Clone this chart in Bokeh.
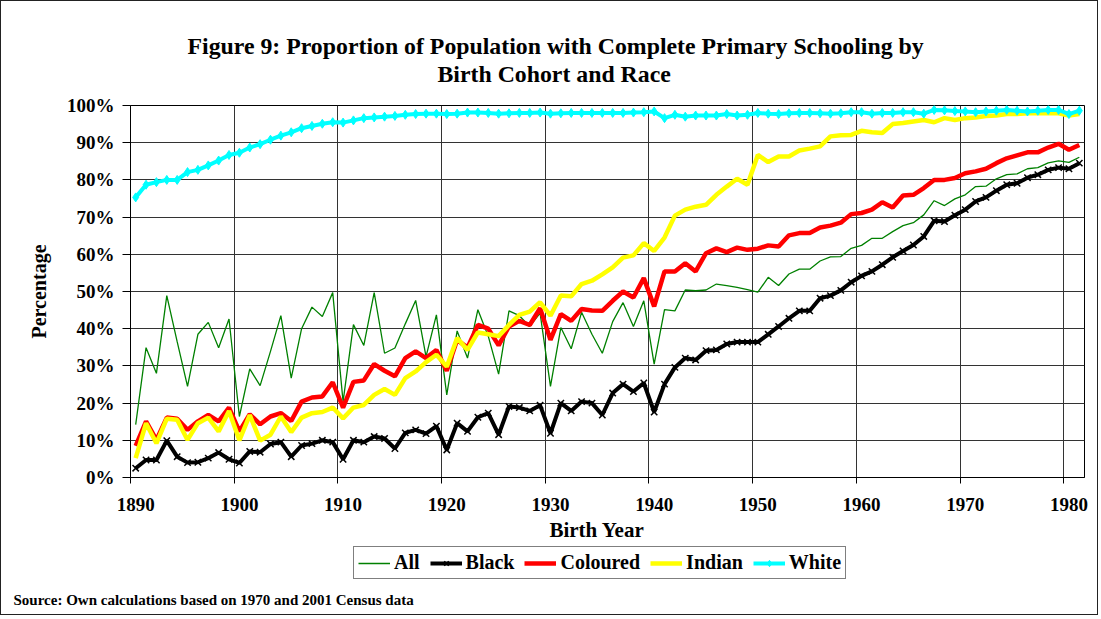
from bokeh.plotting import figure
from bokeh.models import (Range1d, FixedTicker, Legend, LegendItem, Title)
from bokeh.layouts import column
from bokeh.embed import file_html
from bokeh.resources import INLINE

years = list(range(1890, 1982))
tick_years = [1890, 1900, 1910, 1920, 1930, 1940, 1950, 1960, 1970, 1980]

all_vals = [14.2, 34.9, 28.0, 48.9, 36.5, 24.5, 38.5, 41.7, 34.9, 42.6,
            16.4, 29.2, 24.7, 33.9, 43.5, 26.7, 40.0, 45.8, 43.3, 49.7,
            20.4, 41.1, 35.5, 49.7, 33.4, 34.8, 41.3, 47.6, 32.5, 43.7,
            22.2, 39.4, 32.1, 45.1, 38.0, 27.8, 44.8, 43.5, 40.6, 44.2,
            24.5, 40.3, 34.6, 44.4, 38.5, 33.4, 41.9, 47.0, 40.6, 47.5,
            30.5, 45.1, 44.8, 50.4, 50.2, 50.4, 52.0, 51.6, 51.1, 50.5,
            49.8, 53.8, 51.6, 54.7, 56.0, 56.0, 58.2, 59.3, 59.4, 61.6,
            62.4, 64.3, 64.3, 66.1, 67.7, 68.5, 70.6, 74.4, 73.1, 74.9,
            76.0, 78.2, 78.3, 80.3, 81.4, 81.6, 83.0, 83.3, 84.6, 85.1,
            84.7, 86.1]

black_vals = [2.5, 4.7, 4.7, 9.9, 5.6, 4.0, 4.1, 5.2, 6.7, 4.9,
              3.9, 7.0, 6.8, 9.0, 9.5, 5.6, 8.6, 9.1, 10.0, 9.5,
              4.9, 10.0, 9.5, 11.0, 10.5, 7.8, 12.0, 12.8, 11.8, 13.8,
              7.4, 14.6, 12.4, 16.2, 17.3, 11.5, 19.1, 18.8, 17.9, 19.4,
              11.9, 20.0, 17.9, 20.4, 20.0, 16.8, 22.7, 25.1, 23.1, 25.4,
              17.6, 25.1, 29.6, 32.1, 31.6, 34.1, 34.3, 35.9, 36.4, 36.4,
              36.4, 38.5, 40.6, 42.8, 44.8, 44.8, 48.2, 48.9, 50.3, 52.5,
              54.2, 55.4, 57.2, 59.2, 60.9, 62.5, 64.8, 69.0, 68.8, 70.5,
              72.0, 74.2, 75.3, 77.1, 78.7, 79.1, 80.6, 81.4, 82.7, 83.3,
              83.0, 84.5]

coloured_vals = [8.5, 15.1, 10.1, 16.1, 15.8, 12.8, 15.1, 16.8, 15.1, 18.8,
                 12.4, 17.0, 14.3, 16.4, 17.3, 15.2, 20.4, 21.5, 21.8, 25.6,
                 18.8, 25.7, 26.1, 30.5, 28.7, 27.2, 32.1, 33.9, 32.1, 34.3,
                 28.7, 37.0, 34.9, 41.0, 40.0, 35.5, 40.6, 42.1, 41.0, 45.5,
                 37.0, 43.9, 42.1, 45.3, 44.9, 44.8, 47.5, 50.0, 48.4, 53.6,
                 46.0, 55.4, 55.4, 57.6, 55.4, 60.3, 61.6, 60.6, 61.8, 61.2,
                 61.5, 62.4, 62.1, 65.1, 65.7, 65.7, 67.2, 67.7, 68.5, 70.8,
                 71.1, 72.0, 74.0, 72.6, 75.8, 76.0, 77.8, 80.0, 80.0, 80.5,
                 81.8, 82.3, 83.0, 84.5, 85.8, 86.6, 87.4, 87.4, 88.7, 89.7,
                 88.1, 89.4]

indian_vals = [5.2, 14.6, 9.2, 15.8, 15.5, 10.1, 14.6, 16.1, 12.4, 17.9,
               10.0, 16.8, 9.9, 11.5, 16.4, 12.2, 16.1, 17.3, 17.6, 18.8,
               15.9, 18.8, 19.5, 22.2, 23.8, 22.2, 26.7, 28.5, 31.0, 33.0,
               29.8, 37.5, 34.3, 39.0, 38.5, 38.0, 41.0, 43.7, 44.6, 47.1,
               43.5, 48.9, 48.7, 52.0, 52.9, 54.6, 56.5, 59.1, 59.7, 63.0,
               60.9, 64.5, 70.4, 72.0, 72.8, 73.3, 76.0, 78.2, 80.3, 78.7,
               86.7, 84.8, 86.3, 86.3, 87.9, 88.4, 89.0, 91.7, 92.0, 92.1,
               93.2, 92.8, 92.6, 95.0, 95.3, 95.7, 96.1, 95.5, 96.6, 96.1,
               96.6, 96.8, 97.2, 97.3, 97.7, 97.7, 97.9, 97.9, 97.9, 97.9,
               97.3, 97.7]

white_vals = [75.3, 78.7, 79.4, 80.0, 80.0, 82.1, 82.7, 83.9, 85.2, 86.7,
              87.3, 88.7, 89.6, 90.8, 91.9, 92.8, 93.9, 94.5, 95.1, 95.5,
              95.4, 96.0, 96.6, 96.8, 97.0, 97.2, 97.5, 97.7, 97.8, 97.8,
              97.7, 97.8, 98.1, 98.1, 98.0, 97.8, 97.9, 98.0, 98.0, 98.1,
              97.8, 97.9, 98.0, 98.0, 98.0, 98.0, 98.0, 98.0, 98.1, 98.2,
              98.4, 96.6, 97.5, 97.0, 97.3, 97.3, 97.3, 97.7, 97.3, 97.5,
              98.0, 97.8, 97.7, 97.9, 98.0, 98.0, 97.9, 97.8, 97.9, 98.2,
              98.2, 97.8, 98.0, 98.0, 98.2, 98.2, 97.8, 98.8, 98.7, 98.5,
              98.4, 98.2, 98.4, 98.6, 98.8, 98.6, 98.4, 98.6, 98.8, 98.8,
              97.7, 98.6]

series_names = ["All", "Black", "Coloured", "Indian", "White"]
title_lines = ["Figure 9: Proportion of Population with Complete Primary Schooling by",
               "Birth Cohort and Race"]
x_title = "Birth Year"
y_title = "Percentage"
source_text = "Source: Own calculations based on 1970 and 2001 Census data"

FONT = "Liberation Serif"
GREEN, BLACK, RED, YELLOW, CYAN = "#008000", "#000000", "#FF0000", "#FFFF00", "#00FFFF"


def draw_series(fig):
    """Draw the five series on a figure; return renderers for legend items."""
    r_all = fig.line(years, all_vals, color=GREEN, line_width=1.3)
    r_black = fig.line(years, black_vals, color=BLACK, line_width=4)
    m_black = fig.scatter(years, black_vals, marker="x", size=9, line_color=BLACK, line_width=1.5)
    r_col = fig.line(years, coloured_vals, color=RED, line_width=4.5)
    r_ind = fig.line(years, indian_vals, color=YELLOW, line_width=4.5)
    r_white = fig.line(years, white_vals, color=CYAN, line_width=4)
    m_white = fig.scatter(years, white_vals, marker="diamond", size=9, color=CYAN)
    return [[r_all], [r_black, m_black], [r_col], [r_ind], [r_white, m_white]]


# ---------------- main chart ----------------
p = figure(frame_width=954, frame_height=372, output_backend="svg", toolbar_location=None,
           x_range=Range1d(1889.5, 1981.5), y_range=Range1d(0, 100),
           min_border_left=129, min_border_right=13, min_border_top=104,
           min_border_bottom=68)
p.title = None
p.background_fill_color = "white"
p.border_fill_color = "white"
p.outline_line_color = "black"
p.outline_line_width = 1

bounds = [y - 0.5 for y in tick_years]
xa = p.xaxis[0]
xa.ticker = FixedTicker(ticks=tick_years, minor_ticks=bounds)
xa.major_tick_line_color = None
xa.major_tick_out = 0
xa.major_tick_in = 0
xa.minor_tick_line_color = "black"
xa.minor_tick_out = 6
xa.minor_tick_in = 0
xa.axis_line_color = "black"
xa.major_label_text_font = FONT
xa.major_label_text_font_style = "bold"
xa.major_label_text_font_size = "19px"
xa.major_label_text_color = "black"
xa.major_label_standoff = 14
xa.axis_label = x_title + "\u00a0\u00a0\u00a0\u00a0"
xa.axis_label_text_font = FONT
xa.axis_label_text_font_style = "bold"
xa.axis_label_text_font_size = "21px"
xa.axis_label_text_color = "black"
xa.axis_label_standoff = 4

ya = p.yaxis[0]
ya.ticker = FixedTicker(ticks=list(range(0, 101, 10)))
ya.major_label_overrides = {v: f"{v}%" for v in range(0, 101, 10)}
ya.major_tick_out = 8
ya.major_tick_in = 0
ya.minor_tick_line_color = None
ya.axis_line_color = "black"
ya.major_label_text_font = FONT
ya.major_label_text_font_style = "bold"
ya.major_label_text_font_size = "19px"
ya.major_label_text_color = "black"
ya.major_label_standoff = 8
ya.axis_label = y_title
ya.axis_label_text_font = FONT
ya.axis_label_text_font_style = "bold"
ya.axis_label_text_font_size = "20px"
ya.axis_label_text_color = "black"
ya.axis_label_standoff = 14

p.xgrid.ticker = FixedTicker(ticks=bounds[1:])
p.xgrid.grid_line_color = "#333333"
p.xgrid.grid_line_width = 1
p.ygrid.ticker = FixedTicker(ticks=list(range(10, 101, 10)))
p.ygrid.grid_line_color = "#333333"
p.ygrid.grid_line_width = 1

draw_series(p)

# title: first added is nearest to the plot frame
spacer = Title(text="\u00a0", align="left", text_font=FONT, text_font_size="10px",
               standoff=6)
t2 = Title(text=title_lines[1], align="left", offset=307, text_font=FONT,
           text_font_style="bold", text_font_size="23.8px", text_color="black",
           standoff=0)
t1 = Title(text=title_lines[0], align="left", offset=57, text_font=FONT,
           text_font_style="bold", text_font_size="23.8px", text_color="black",
           standoff=0)
p.add_layout(spacer, "above")
p.add_layout(t2, "above")
p.add_layout(t1, "above")

# ---------------- legend / source strip ----------------
# same series drawn against a y range they never reach, so only the legend shows
q = figure(width=1096, height=69, output_backend="svg", toolbar_location=None,
           x_range=Range1d(1889.5, 1981.5), y_range=Range1d(200, 300),
           x_axis_location=None, y_axis_location=None, min_border=0)
q.grid.visible = False
q.outline_line_color = None
q.background_fill_color = "white"
q.border_fill_color = "white"

legend_renderers = draw_series(q)
legend = Legend(items=[LegendItem(label=name, renderers=rs)
                       for name, rs in zip(series_names, legend_renderers)],
                orientation="horizontal", location=(223, 3))
legend.label_text_font = FONT
legend.label_text_font_style = "bold"
legend.label_text_font_size = "20px"
legend.label_text_color = "black"
legend.glyph_width = 32
legend.glyph_height = 16
legend.label_standoff = 4
legend.spacing = 10
legend.padding = 4
legend.margin = 0
legend.border_line_color = "black"
legend.border_line_width = 1
legend.background_fill_color = "white"
legend.background_fill_alpha = 1
q.add_layout(legend, "center")

src = Title(text=source_text, align="left", offset=-117, text_font=FONT,
            text_font_style="bold", text_font_size="15px", text_color="black",
            standoff=14)
q.add_layout(src, "below")

layout = column(p, q, spacing=0)
layout.styles = {"border": "1.5px solid #222222"}

open("out.html", "w").write(file_html(layout, INLINE))
